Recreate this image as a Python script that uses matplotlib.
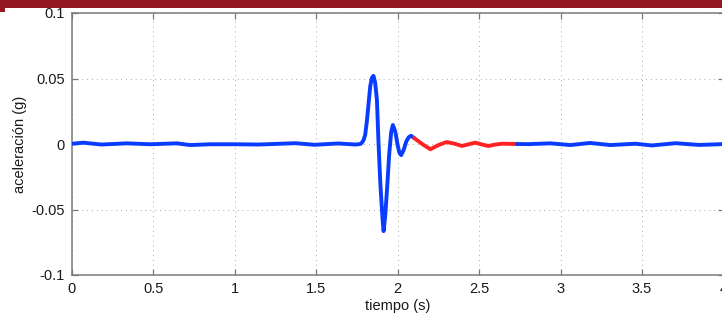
import matplotlib
matplotlib.use("Agg")
import matplotlib.pyplot as plt
from matplotlib.patches import Rectangle

plt.rcParams['font.family'] = ['Liberation Sans', 'DejaVu Sans']

# Blue segment before the red section
t_blue1 = [0.00, 0.07, 0.18, 0.336, 0.48, 0.643, 0.725, 0.85, 1.00, 1.145, 1.37,
           1.49, 1.635, 1.74, 1.770, 1.780, 1.790, 1.800, 1.811, 1.821, 1.831, 1.841,
           1.851, 1.861, 1.872, 1.882, 1.893, 1.907, 1.913, 1.923, 1.934, 1.948,
           1.960, 1.970, 1.985, 1.999, 2.011, 2.021, 2.036, 2.052, 2.067, 2.081, 2.101]
a_blue1 = [0.0002, 0.0010, -0.0004, 0.0005, -0.0002, 0.0005, -0.0008, -0.0002, -0.0002,
           -0.0004, 0.0006, -0.0006, 0.0004, -0.0004, 0.0000, 0.0010, 0.0030, 0.0069,
           0.0180, 0.0310, 0.0440, 0.0505, 0.0520, 0.0470, 0.0340, 0.0005, -0.0300,
           -0.0580, -0.0665, -0.0550, -0.0350, -0.0070, 0.0094, 0.0145, 0.0094, -0.0007,
           -0.0070, -0.0085, -0.0046, 0.0018, 0.0051, 0.0063, 0.0045]

# Red section
t_red = [2.101, 2.15, 2.20, 2.25, 2.30, 2.35, 2.394, 2.435, 2.476, 2.515, 2.556, 2.60,
         2.64, 2.69, 2.732]
a_red = [0.0045, 0.0000, -0.0040, -0.0008, 0.0015, 0.0002, -0.0015, -0.0002, 0.0010,
         -0.0003, -0.0015, -0.0004, 0.0002, 0.0001, 0.0000]

# Blue segment after the red section
t_blue2 = [2.732, 2.80, 2.937, 3.06, 3.18, 3.305, 3.46, 3.56, 3.705, 3.85, 3.97, 4.00]
a_blue2 = [0.0000, -0.0001, 0.0005, -0.0008, 0.0008, -0.0008, 0.0002, -0.0011, 0.0006,
           -0.0007, -0.0002, 0.0000]

xticks = [0, 0.5, 1, 1.5, 2, 2.5, 3, 3.5, 4]
xticklabels = ['0', '0.5', '1', '1.5', '2', '2.5', '3', '3.5', '4']
yticks = [-0.1, -0.05, 0, 0.05, 0.1]
yticklabels = ['-0.1', '-0.05', '0', '0.05', '0.1']

W, H = 722, 320
fig = plt.figure(figsize=(W / 100, H / 100), dpi=100)

# top dark-red banner
fig.patches.append(Rectangle((0, (H - 8) / H), 1, 8 / H, transform=fig.transFigure,
                             facecolor='#931620', edgecolor='none', zorder=0))
fig.patches.append(Rectangle((0, (H - 12) / H), 5 / W, 5 / H, transform=fig.transFigure,
                             facecolor='#931620', edgecolor='none', zorder=0))

left, right = 72, 723.5
top, bottom = 13, 275
ax = fig.add_axes([left / W, (H - bottom) / H, (right - left) / W, (bottom - top) / H])

blue = '#0a3cff'
red = '#ff2222'
kw = dict(lw=2.8, solid_capstyle='round', solid_joinstyle='round', zorder=3)
ax.plot(t_blue1, a_blue1, color=blue, **kw)
ax.plot(t_red, a_red, color=red, **kw)
ax.plot(t_blue2, a_blue2, color=blue, **kw)

ax.set_xlim(0, 4)
ax.set_ylim(-0.1, 0.1)
ax.set_xticks(xticks)
ax.set_xticklabels(xticklabels)
ax.set_yticks(yticks)
ax.set_yticklabels(yticklabels)

ax.grid(True, color='#a8a8a8', linestyle=(0, (1, 4)), linewidth=0.7)
ax.set_axisbelow(True)

spine_col = '#7a7a7a'
for s in ax.spines.values():
    s.set_color(spine_col)
    s.set_linewidth(1.1)

ax.tick_params(direction='in', length=4, width=0.9, color=spine_col,
               labelsize=10.5, labelcolor='#1a1a1a', top=True, right=True, pad=5)

ax.set_xlabel('tiempo (s)', fontsize=10.5, color='#1a1a1a', labelpad=2)
ax.set_ylabel('aceleración (g)', fontsize=10.5, color='#1a1a1a', labelpad=3)

fig.savefig('out.png', dpi=100)
